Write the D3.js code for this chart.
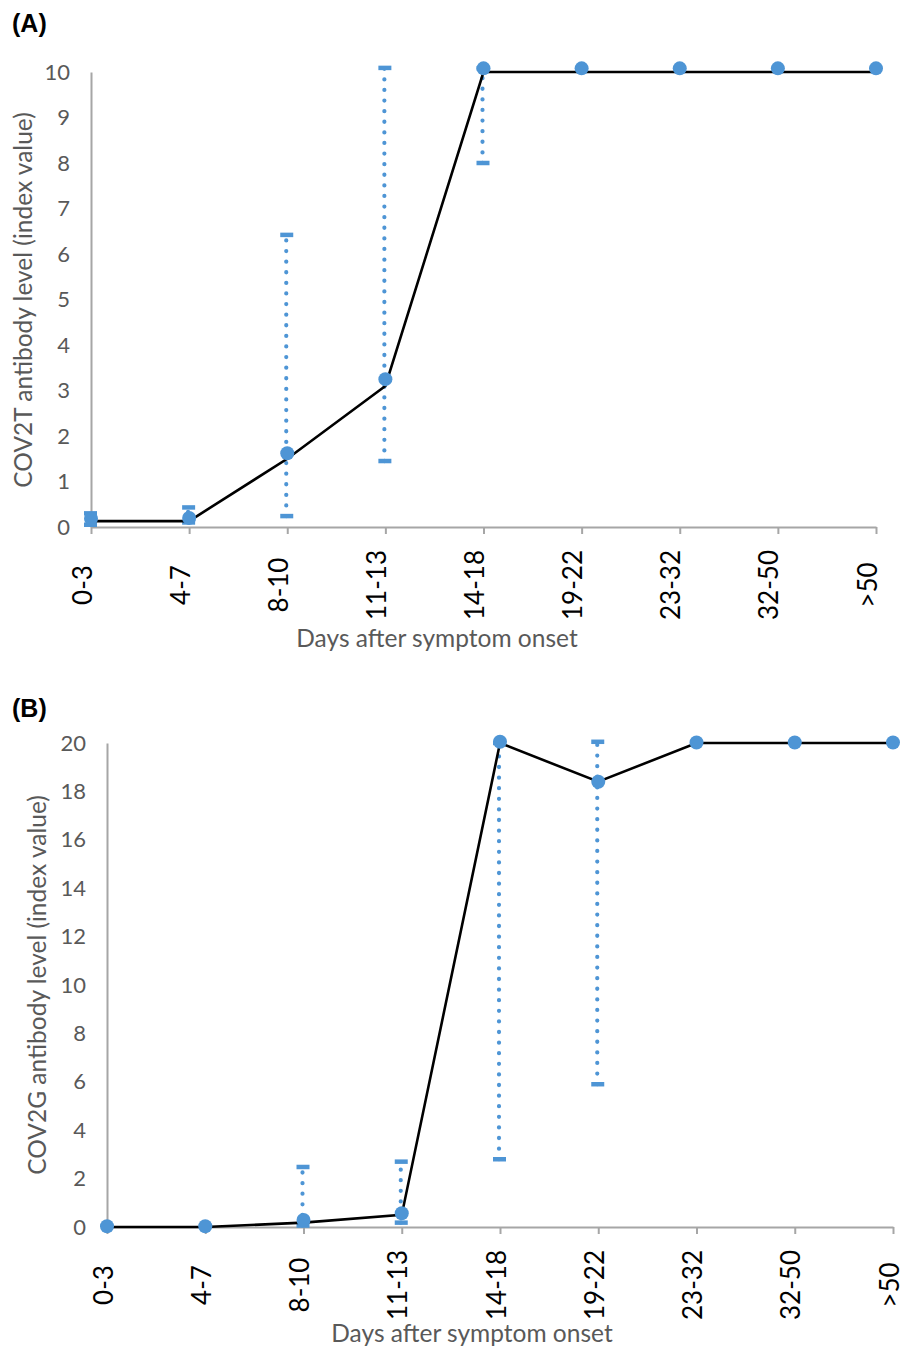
<!DOCTYPE html>
<html>
<head>
<meta charset="utf-8">
<script src="https://cdn.jsdelivr.net/npm/d3@7"></script>
<style>
  body { margin: 0; background: #fff; }
  svg { display: block; }
</style>
</head>
<body>
<div id="chart"></div>
<script>
// categories on the x axis (days after symptom onset)
const categories = ["0-3", "4-7", "8-10", "11-13", "14-18", "19-22", "23-32", "32-50", ">50"];

// panel A: COV2T
const lineA = [0.13, 0.13, 1.5, 3.1, 10, 10, 10, 10, 10];
const markA = [0.18, 0.2, 1.62, 3.25, 10.08, 10.08, 10.08, 10.08, 10.08];
const lowA = [0.05, 0.1, 0.24, 1.45, 8.0, null, null, null, null];
const highA = [0.3, 0.43, 6.42, 10.09, 10.08, null, null, null, null];
const ticksA = [0, 1, 2, 3, 4, 5, 6, 7, 8, 9, 10];

// panel B: COV2G
const lineB = [0, 0, 0.18, 0.5, 20, 18.4, 20, 20, 20];
const markB = [0.03, 0.03, 0.29, 0.57, 20.05, 18.4, 20.02, 20.02, 20.02];
const lowB = [null, null, 0.06, 0.18, 2.8, 5.9, null, null, null];
const highB = [null, null, 2.48, 2.7, 20.0, 20.05, null, null, null];
const ticksB = [0, 2, 4, 6, 8, 10, 12, 14, 16, 18, 20];

const blue = "#4e95d5";
const grey = "#a6a6a6";
const textGrey = "#595959";
const font = "Lato, 'Open Sans', sans-serif";

const svg = d3.select("#chart").append("svg")
  .attr("width", 910)
  .attr("height", 1349);

function panel(cfg) {
  const x = d3.scalePoint().domain(categories).range([cfg.x0, cfg.x1]).padding(0);
  const y = d3.scaleLinear().domain([0, cfg.max]).range([cfg.y0, cfg.y1]);
  const g = svg.append("g");

  // y axis
  const ya = g.append("g")
    .attr("transform", `translate(${cfg.x0},0)`)
    .call(d3.axisLeft(y).tickValues(cfg.ticks).tickSizeInner(0).tickSizeOuter(0).tickPadding(21));
  ya.select(".domain").attr("stroke", grey).attr("stroke-width", 2);
  ya.selectAll("text")
    .attr("fill", textGrey)
    .style("font-family", font)
    .style("font-size", "22px");

  // x axis
  const xa = g.append("g")
    .attr("transform", `translate(0,${cfg.y0})`)
    .call(d3.axisBottom(x).tickSizeInner(7).tickSizeOuter(0));
  xa.select(".domain").attr("stroke", grey).attr("stroke-width", 2);
  xa.selectAll(".tick line").attr("stroke", grey).attr("stroke-width", 2);
  xa.selectAll("text").remove();
  xa.selectAll(".tick").append("text")
    .attr("transform", `translate(${cfg.labelDx},${cfg.labelY - cfg.y0}) rotate(-90)`)
    .attr("text-anchor", "middle")
    .attr("fill", "#000")
    .style("font-family", font)
    .style("font-size", "26px")
    .text(d => d);

  // error bars
  const idx = d3.range(categories.length).filter(i => cfg.low[i] != null);
  const eb = g.append("g").attr("class", "errorbars");
  eb.selectAll("line.bar").data(idx).join("line")
    .attr("class", "bar")
    .attr("x1", i => x(categories[i]) - 1)
    .attr("x2", i => x(categories[i]) - 1)
    .attr("y1", i => y(cfg.low[i]))
    .attr("y2", i => y(cfg.high[i]))
    .attr("stroke", blue)
    .attr("stroke-width", 4.2)
    .attr("stroke-linecap", "round")
    .attr("stroke-dasharray", "0.1 10.5");
  const caps = idx.flatMap(i => [[i, cfg.low[i]], [i, cfg.high[i]]]);
  eb.selectAll("line.cap").data(caps).join("line")
    .attr("class", "cap")
    .attr("x1", d => x(categories[d[0]]) - 7)
    .attr("x2", d => x(categories[d[0]]) + 6)
    .attr("y1", d => y(d[1]))
    .attr("y2", d => y(d[1]))
    .attr("stroke", blue)
    .attr("stroke-width", 4.5);

  // line
  g.append("path")
    .datum(cfg.line)
    .attr("fill", "none")
    .attr("stroke", "#000")
    .attr("stroke-width", 2.6)
    .attr("d", d3.line().x((d, i) => x(categories[i])).y(d => y(d)));

  // markers
  g.selectAll("circle.m").data(cfg.mark).join("circle")
    .attr("class", "m")
    .attr("cx", (d, i) => x(categories[i]))
    .attr("cy", d => y(d))
    .attr("r", 7)
    .attr("fill", blue);

  // axis titles
  g.append("text")
    .attr("x", cfg.xTitleX)
    .attr("y", cfg.xTitleY)
    .attr("text-anchor", "middle")
    .attr("fill", textGrey)
    .style("font-family", font)
    .style("font-size", "24.5px")
    .text("Days after symptom onset");

  g.append("text")
    .attr("transform", `translate(${cfg.yTitleX},${cfg.yTitleY}) rotate(-90)`)
    .attr("text-anchor", "middle")
    .attr("fill", textGrey)
    .style("font-family", font)
    .style("font-size", "24.5px")
    .text(cfg.yTitle);

  // panel letter
  g.append("text")
    .attr("x", 12)
    .attr("y", cfg.letterY)
    .attr("fill", "#000")
    .style("font-family", "'Liberation Sans', Arial, sans-serif")
    .style("font-weight", "bold")
    .style("font-size", "25px")
    .text(cfg.letter);
}

panel({
  x0: 91, x1: 876, y0: 527, y1: 72, max: 10, ticks: ticksA,
  line: lineA, mark: markA, low: lowA, high: highA,
  labelDx: 0, labelY: 585,
  xTitleX: 437, xTitleY: 647,
  yTitle: "COV2T antibody level (index value)", yTitleX: 32, yTitleY: 300,
  letter: "(A)", letterY: 32
});

panel({
  x0: 107, x1: 893, y0: 1227, y1: 743, max: 20, ticks: ticksB,
  line: lineB, mark: markB, low: lowB, high: highB,
  labelDx: 5, labelY: 1285,
  xTitleX: 472, xTitleY: 1342,
  yTitle: "COV2G antibody level (index value)", yTitleX: 46, yTitleY: 985,
  letter: "(B)", letterY: 717
});
</script>
</body>
</html>
